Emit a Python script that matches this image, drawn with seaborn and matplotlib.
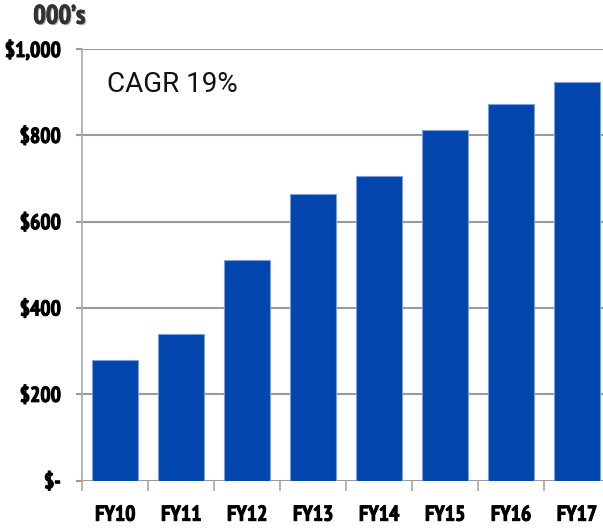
import matplotlib
matplotlib.use("Agg")
import matplotlib.pyplot as plt
import matplotlib.patheffects as pe
import seaborn as sns
import pandas as pd

# Revenue by fiscal year, in thousands of dollars
years = ["FY10", "FY11", "FY12", "FY13", "FY14", "FY15", "FY16", "FY17"]
revenue = [280, 340, 512, 663, 706, 812, 873, 924]
y_ticks = [0, 200, 400, 600, 800, 1000]
y_tick_labels = ["$-", "$200", "$400", "$600", "$800", "$1,000"]
units_label = "000\u2019s"
cagr_label = "CAGR 19%"

sns.set_theme(style="white")
plt.rcParams["font.family"] = ["PT Sans Narrow", "DejaVu Sans"]

df = pd.DataFrame({"year": years, "revenue": revenue})

fig = plt.figure(figsize=(6.03, 5.28), dpi=100)
W, H = 603, 528
left, right, top, bottom = 82.3, 610, 49, 480.7
ax = fig.add_axes([left / W, 1 - bottom / H, (right - left) / W, (bottom - top) / H])

sns.barplot(data=df, x="year", y="revenue", color="#0046ad", saturation=1,
            width=0.7, edgecolor="#7f9fdc", linewidth=0.8, ax=ax, zorder=3)

ax.set_xlim(-0.5, len(years) - 0.5)
ax.set_ylim(0, 1000)
ax.set_yticks(y_ticks)
ax.set_yticklabels(y_tick_labels)

# horizontal gridlines behind the bars
ax.yaxis.grid(True, color="#9a9a9a", linewidth=1.5, zorder=0)
ax.xaxis.grid(False)
ax.set_axisbelow(True)

for side in ["top", "right", "bottom"]:
    ax.spines[side].set_visible(False)
ax.spines["left"].set_color("#a8a8a8")
ax.spines["left"].set_linewidth(1.2)

# category separators drawn as minor ticks below the baseline
ax.set_xticks([i - 0.5 for i in range(len(years) + 1)], minor=True)
ax.tick_params(axis="x", which="minor", bottom=True, length=7, width=1.2,
               color="#a8a8a8", direction="out")
ax.tick_params(axis="x", which="major", length=0, pad=18)
ax.tick_params(axis="y", which="major", left=True, length=4.5, width=1.5,
               color="#9a9a9a", pad=11)

heavy = [pe.withStroke(linewidth=0.7, foreground="black")]
for lab in ax.get_xticklabels() + ax.get_yticklabels():
    lab.set_fontweight("bold")
    lab.set_fontsize(15.5)
    lab.set_color("black")
    lab.set_path_effects(heavy)

ax.set_xlabel("")
ax.set_ylabel("")

fig.text(59 / W, 1 - 17 / H, units_label, ha="center", va="center",
         fontsize=19, fontweight="bold", color="#333333",
         path_effects=[pe.withSimplePatchShadow(offset=(1, -1), shadow_rgbFace="#999999", alpha=0.8),
                       pe.withStroke(linewidth=0.6, foreground="#333333")])
fig.text(107 / W, 1 - 84 / H, cagr_label, ha="left", va="center",
         fontsize=20, color="#111111", family=["Roboto", "DejaVu Sans"])

fig.savefig("out.png", dpi=100)
